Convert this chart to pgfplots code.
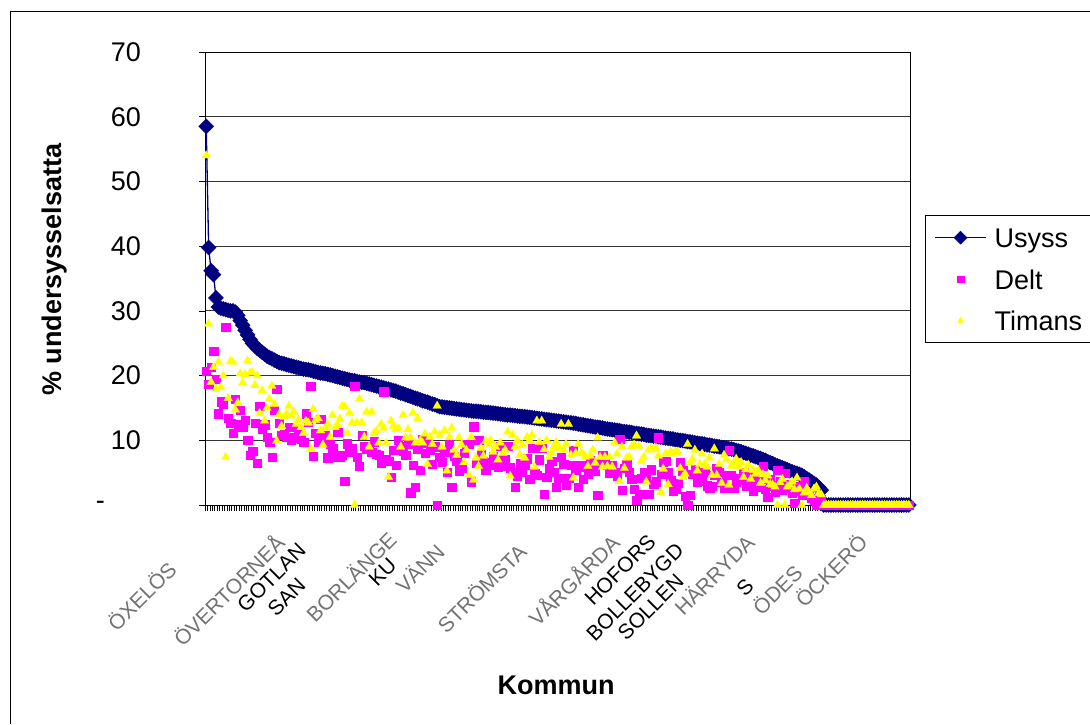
\documentclass[border=0pt]{standalone}
\usepackage{fontspec}
\setmainfont{Liberation Sans}
\usepackage{pgfplots}
\usepackage{pgfplotstable}
\pgfplotsset{compat=1.18}
\definecolor{usyss}{RGB}{0,0,128}
\definecolor{delt}{RGB}{255,0,255}
\definecolor{timans}{RGB}{255,255,0}
\newcommand\tickfont{\fontsize{27}{30}\selectfont}
\newcommand\labfont{\fontsize{27}{30}\selectfont\bfseries}
\newcommand\legfont{\fontsize{27}{30}\selectfont}
\newcommand\xlab{\fontsize{21}{24}\selectfont}
\newcommand\lent[1]{\rule[-6pt]{0pt}{28pt}#1}

\pgfplotstableread{
i U D T
1 58.5 20.7 54.0
2 39.8 18.7 28.0
3 36.2 21.3 19.0
4 35.6 23.8 21.3
5 32.0 19.5 17.9
6 30.6 14.1 22.1
7 30.4 16.0 18.2
8 30.3 15.6 20.0
9 30.2 27.5 7.4
10 30.1 13.4 16.5
11 30.0 12.7 22.2
12 30.0 11.1 22.1
13 29.8 16.4 14.7
14 29.3 12.5 15.8
15 28.5 14.7 20.3
16 27.8 12.1 18.9
17 27.0 13.1 20.2
18 26.3 10.0 22.3
19 25.6 7.7 20.4
20 25.0 8.3 20.5
21 24.6 12.7 18.5
22 24.2 6.5 20.0
23 23.9 15.3 14.2
24 23.6 11.7 17.7
25 23.3 12.4 13.0
26 23.0 10.5 15.0
27 22.8 9.7 16.4
28 22.6 7.4 18.4
29 22.4 14.7 15.6
30 22.2 17.9 9.9
31 22.0 12.7 14.0
32 21.9 10.8 12.2
33 21.8 11.0 13.6
34 21.7 10.5 14.0
35 21.6 12.0 15.3
36 21.5 10.0 13.8
37 21.4 10.4 14.4
38 21.3 10.5 12.5
39 21.2 11.5 13.2
40 21.1 10.2 12.0
41 21.0 9.7 11.1
42 20.95 14.1 13.0
43 20.9 12.8 12.7
44 20.8 18.4 8.7
45 20.7 7.6 14.8
46 20.6 11.1 13.1
47 20.5 9.7 13.4
48 20.4 13.3 11.5
49 20.35 10.0 9.3
50 20.3 10.8 11.9
51 20.2 7.3 12.5
52 20.1 9.4 10.5
53 20.0 8.7 13.9
54 19.9 7.5 12.0
55 19.8 11.3 12.4
56 19.7 7.4 13.3
57 19.6 7.7 15.3
58 19.5 3.7 15.2
59 19.4 9.5 11.1
60 19.3 8.2 14.2
61 19.25 8.8 12.7
62 19.2 18.4 0.0
63 19.1 7.4 12.7
64 19.0 6.0 16.4
65 18.95 10.8 12.7
66 18.9 9.1 10.5
67 18.8 8.6 14.4
68 18.7 9.0 9.0
69 18.6 8.2 14.4
70 18.5 9.8 11.1
71 18.4 7.9 11.4
72 18.3 7.7 9.6
73 18.2 6.5 12.5
74 18.1 17.5 11.9
75 18.0 7.1 9.6
76 17.9 6.8 4.3
77 17.8 4.3 13.0
78 17.7 8.5 12.2
79 17.6 6.2 11.7
80 17.45 10.0 11.9
81 17.3 9.0 9.0
82 17.2 8.3 13.9
83 17.05 7.7 10.4
84 16.9 9.5 11.7
85 16.8 1.9 10.4
86 16.65 6.2 14.2
87 16.5 2.8 9.6
88 16.4 8.7 13.4
89 16.25 5.4 10.0
90 16.1 10.2 9.6
91 16.0 8.0 11.0
92 15.9 9.6 6.3
93 15.75 8.5 10.5
94 15.6 6.3 9.4
95 15.5 9.0 11.3
96 15.35 0.0 15.3
97 15.2 7.4 10.8
98 15.15 6.6 9.0
99 15.1 8.2 11.5
100 15.05 5.1 5.3
101 15.0 9.4 10.5
102 14.95 2.8 11.9
103 14.9 7.6 8.5
104 14.85 6.8 7.7
105 14.8 5.3 10.4
106 14.75 5.7 9.3
107 14.7 8.0 6.6
108 14.65 9.4 8.5
109 14.6 9.4 4.6
110 14.55 3.6 10.5
111 14.5 12.1 3.9
112 14.5 6.5 7.3
113 14.45 10.0 6.0
114 14.4 7.9 8.8
115 14.35 6.8 7.6
116 14.3 5.5 9.9
117 14.3 6.6 9.4
118 14.25 6.2 10.0
119 14.2 7.5 8.2
120 14.15 7.1 9.0
121 14.1 5.9 7.0
122 14.05 9.1 9.6
123 14.0 6.0 8.0
124 13.95 7.0 8.5
125 13.9 9.1 11.3
126 13.9 5.8 4.5
127 13.85 5.1 10.8
128 13.8 2.8 9.0
129 13.75 4.5 10.0
130 13.7 6.5 7.7
131 13.7 5.1 9.3
132 13.65 6.2 7.3
133 13.6 7.2 10.5
134 13.55 4.0 10.0
135 13.5 8.8 10.8
136 13.45 4.9 5.9
137 13.4 4.6 13.0
138 13.35 7.0 9.7
139 13.3 8.8 13.0
140 13.25 1.7 8.6
141 13.2 4.3 10.0
142 13.15 5.6 7.4
143 13.1 6.8 8.0
144 13.05 5.1 9.0
145 13.0 2.8 9.7
146 12.95 4.2 8.8
147 12.9 7.4 12.5
148 12.85 6.3 8.5
149 12.8 3.1 9.4
150 12.75 4.2 12.5
151 12.7 6.2 7.7
152 12.65 8.5 4.2
153 12.6 5.4 8.0
154 12.5 2.8 9.4
155 12.45 6.2 8.0
156 12.4 4.0 7.9
157 12.3 5.9 7.4
158 12.25 4.8 6.0
159 12.2 6.9 7.6
160 12.1 5.6 8.5
161 12.05 5.3 6.5
162 12.0 1.5 10.4
163 11.95 6.5 7.4
164 11.9 7.7 5.9
165 11.8 7.1 7.4
166 11.75 6.2 6.0
167 11.7 4.9 7.4
168 11.65 6.2 5.9
169 11.6 5.0 9.6
170 11.55 4.5 7.9
171 11.5 10.2 3.7
172 11.4 2.3 9.0
173 11.35 5.7 5.7
174 11.3 6.3 7.3
175 11.25 5.1 7.4
176 11.2 4.0 9.0
177 11.1 2.5 9.3
178 11.05 0.8 10.7
179 11.0 1.7 9.1
180 10.95 4.2 6.8
181 10.9 5.0 7.4
182 10.8 4.2 3.6
183 10.75 1.7 8.5
184 10.7 5.5 8.8
185 10.65 3.2 8.6
186 10.6 3.6 8.8
187 10.55 10.4 7.6
188 10.5 4.8 2.0
189 10.4 6.6 5.6
190 10.35 6.8 7.9
191 10.3 5.1 3.2
192 10.25 3.8 8.2
193 10.2 2.2 7.9
194 10.1 2.5 8.2
195 10.05 3.4 8.2
196 10.0 6.6 5.7
197 9.95 5.3 4.3
198 9.9 1.4 4.8
199 9.8 0.0 9.4
200 9.75 1.5 6.5
201 9.7 4.8 7.1
202 9.6 5.5 8.5
203 9.55 3.6 5.3
204 9.5 3.7 6.3
205 9.45 4.2 7.9
206 9.4 5.0 6.3
207 9.3 3.0 5.9
208 9.25 2.6 7.3
209 9.2 2.9 4.6
210 9.1 4.6 8.7
211 9.05 5.7 4.6
212 9.0 5.1 6.3
213 8.9 3.5 3.4
214 8.85 2.6 7.7
215 8.8 4.6 7.0
216 8.7 8.5 3.1
217 8.65 4.6 6.0
218 8.55 2.6 6.6
219 8.45 3.6 7.1
220 8.35 4.2 5.9
221 8.25 3.9 6.6
222 8.1 5.0 4.3
223 8.0 3.0 5.5
224 7.85 3.1 6.2
225 7.7 4.4 4.0
226 7.6 2.2 5.4
227 7.45 3.3 4.8
228 7.3 2.8 5.4
229 7.2 4.0 3.4
230 7.05 6.0 4.7
231 6.9 2.5 3.8
232 6.7 1.2 4.5
233 6.55 3.9 3.2
234 6.4 3.0 3.1
235 6.2 2.0 2.8
236 6.05 5.4 0.0
237 5.9 3.6 3.5
238 5.75 2.4 4.0
239 5.6 4.9 0.0
240 5.45 3.2 2.8
241 5.3 2.6 3.1
242 5.15 1.8 3.6
243 5.0 0.3 2.4
244 4.9 2.9 4.2
245 4.75 2.2 2.5
246 4.6 1.5 0.0
247 4.35 3.6 1.9
248 4.1 2.0 2.6
249 3.85 1.6 2.0
250 3.6 1.1 1.5
251 3.35 0.8 2.5
252 3.1 0.0 2.8
253 2.7 1.2 1.8
254 2.3 0.9 1.6
255 0 0 0
256 0 0 0
257 0 0 0
258 0 0 0
259 0 0 0
260 0 0 0
261 0 0 0
262 0 0 0
263 0 0 0
264 0 0 0
265 0 0 0
266 0 0 0
267 0 0 0
268 0 0 0
269 0 0 0
270 0 0 0
271 0 0 0
272 0 0 0
273 0 0 0
274 0 0 0
275 0 0 0
276 0 0 0
277 0 0 0
278 0 0 0
279 0 0 0
280 0 0 0
281 0 0 0
282 0 0 0
283 0 0 0
284 0 0 0
285 0 0 0
286 0 0 0
287 0 0 0
288 0 0 0
289 0 0 0
290 0 0 0
}\kdata

\begin{document}
\begin{tikzpicture}[x=1pt,y=1pt]
\fill[white] (0,0) rectangle (1090,724);
\path[use as bounding box] (0,0) rectangle (1090,724);
\draw[black, line width=1pt] (10,0) -- (10,712) -- (1090,712);
\begin{axis}[
  at={(205pt,219pt)}, anchor=south west, scale only axis,
  width=705pt, height=453pt,
  xmin=0.5, xmax=290.5, ymin=0, ymax=70,
  clip=false,
  axis line style={black, line width=0.9pt},
  xtick={0.5,1.5,...,290.5}, xticklabels={},
  ytick={0,10,...,70},
  yticklabels={{-\hspace*{36pt}},10,20,30,40,50,60,70},
  tick align=outside, xtick pos=left, ytick pos=left,
  major tick length=6pt,
  tick style={black, line width=0.6pt},
  ymajorgrids, major grid style={black!80, line width=0.9pt},
  yticklabel style={font=\tickfont, inner sep=0pt, anchor=east, xshift=-58pt},
  ylabel={\% undersysselsatta},
  ylabel style={at={(axis description cs:-0.2128,0.519)}, anchor=center, font=\labfont},
  xlabel={Kommun},
  xlabel style={at={(axis description cs:0.4979,-0.3974)}, anchor=center, font=\labfont},
  legend style={at={(axis description cs:1.0213,0.6402)}, anchor=north west,
    draw=black, line width=0.8pt, fill=white, font=\legfont,
    inner xsep=9pt, inner ysep=8.5pt, row sep=14pt,
    nodes={inner sep=2pt},
    /tikz/every odd column/.append style={column sep=6pt},
    /tikz/every even column/.append style={nodes={text width=125pt}}},
  legend cell align=left,
  legend image code/.code={\draw[mark repeat=2,mark phase=2,#1] plot coordinates {(0pt,0pt) (25.5pt,0pt) (51pt,0pt)};},
]
\addplot[color=usyss, line width=1.3pt, mark=square*, mark size=5.3pt,
  mark options={rotate=45, fill=usyss, draw=usyss, line width=0.4pt},
  legend image post style={mark size=4.6pt}]
  table[x=i,y=U]{\kdata};
\addlegendentry{\lent{Usyss}}
\addplot[only marks, mark=square*, mark size=4.2pt,
  mark options={fill=delt, draw=delt, line width=0.2pt},
  legend image post style={mark size=3.2pt}]
  table[x=i,y=D]{\kdata};
\addlegendentry{\lent{Delt}}
\addplot[only marks, mark=triangle*, mark size=5pt,
  mark options={fill=timans, draw=timans, line width=0.2pt},
  legend image post style={mark size=3.8pt}]
  table[x=i,y=T]{\kdata};
\addlegendentry{\lent{Timans}}
\end{axis}
\begin{scope}[every node/.style={rotate=45, anchor=east, inner sep=0pt, font=\xlab}]
\node[text=black!55] at (172,159) {ÖXELÖS};
\node[text=black!55] at (280,186) {ÖVERTORNEÅ};
\node at (302,177) {GOTLAN};
\node at (302,142) {SAN};
\node[text=black!55] at (392,189) {BORLÄNGE};
\node at (393,162) {KU};
\node[text=black!55] at (440,177) {VÄNN};
\node[text=black!55] at (522,177) {STRÖMSTA};
\node[text=black!55] at (615,186) {VÅRGÅRDA};
\node at (652,186) {HOFORS};
\node at (680,177) {BOLLEBYGD};
\node at (680,146) {SOLLEN};
\node[text=black!55] at (750,186) {HÄRRYDA};
\node at (750,142) {S};
\node[text=black!55] at (798,156) {ÖDES};
\node[text=black!55] at (863,186) {ÖCKERÖ};
\end{scope}
\end{tikzpicture}
\end{document}
